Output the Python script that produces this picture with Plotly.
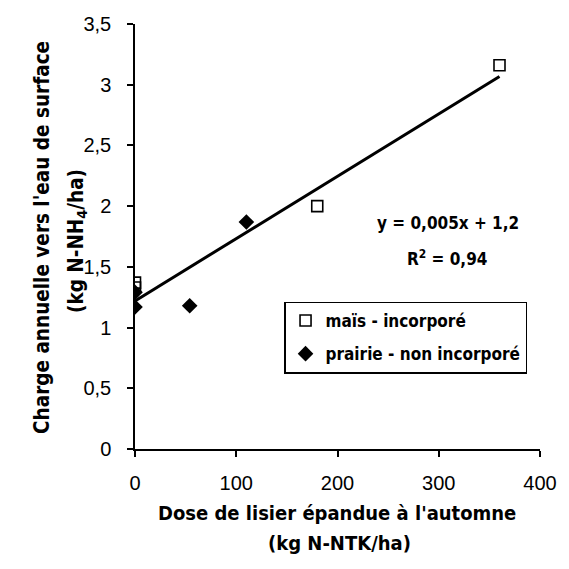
import numpy as np
import plotly.graph_objects as go

# Data
mais_x = [0, 0, 180, 360]
mais_y = [1.37, 1.33, 2.00, 3.16]
prairie_x = [0, 0, 54, 110]
prairie_y = [1.29, 1.17, 1.18, 1.87]

x_ticks = [0, 100, 200, 300, 400]
y_ticks = [0, 0.5, 1, 1.5, 2, 2.5, 3, 3.5]
y_tick_labels = ["0", "0,5", "1", "1,5", "2", "2,5", "3", "3,5"]

eq_text = "y = 0,005x + 1,2"
r2_text = "R<sup>2</sup> = 0,94"

# Linear trend over all points
all_x = np.array(mais_x + prairie_x, dtype=float)
all_y = np.array(mais_y + prairie_y, dtype=float)
slope, intercept = np.polyfit(all_x, all_y, 1)
trend_x = [all_x.min(), all_x.max()]
trend_y = [slope * v + intercept for v in trend_x]

bold_font = "Liberation Sans Narrow, DejaVu Sans Condensed, Arial Narrow, sans-serif"
title_font = "DejaVu Sans Condensed, DejaVu Sans, sans-serif"

fig = go.Figure()
fig.add_trace(go.Scatter(
    x=trend_x, y=trend_y, mode="lines",
    line=dict(color="black", width=3), showlegend=False, hoverinfo="skip"))
fig.add_trace(go.Scatter(
    x=mais_x, y=mais_y, mode="markers", name="maïs - incorporé", legendgroup="a",
    marker=dict(symbol="square-open", size=11, color="black", line=dict(width=1.6, color="black"))))
fig.add_trace(go.Scatter(
    x=prairie_x, y=prairie_y, mode="markers", name="prairie - non incorporé", legendgroup="b",
    marker=dict(symbol="diamond", size=12, color="black")))

fig.update_layout(
    width=569, height=569,
    margin=dict(l=135, r=18, t=24, b=120),
    paper_bgcolor="white", plot_bgcolor="white",
    font=dict(family="Liberation Sans, Arial, sans-serif", size=20, color="black"),
    xaxis=dict(range=[0, 400], tickvals=x_ticks, ticktext=[str(v) for v in x_ticks],
               showgrid=False, zeroline=False, showline=True, linecolor="black", linewidth=1.5,
               ticks="outside", ticklen=6, tickwidth=1.5, tickcolor="black",
               ticklabelstandoff=9, fixedrange=True),
    yaxis=dict(range=[0, 3.5], tickvals=y_ticks, ticktext=y_tick_labels,
               showgrid=False, zeroline=False, showline=True, linecolor="black", linewidth=1.5,
               ticks="outside", ticklen=6, tickwidth=1.5, tickcolor="black",
               ticklabelstandoff=12, fixedrange=True),
    legend=dict(x=0.368, y=0.347, xanchor="left", yanchor="top",
                bordercolor="black", borderwidth=1.5, bgcolor="white",
                font=dict(family=bold_font, size=17, color="black", weight="bold"),
                itemwidth=30, tracegroupgap=8),
    showlegend=True,
)

ann_common = dict(showarrow=False, xref="x", yref="y")
eq_font = dict(family=bold_font, size=17, color="black", weight="bold")
fig.add_annotation(x=(457 - 135) / 1.04, y=(449 - 223) / 121.5, text=eq_text, font=eq_font, **ann_common)
fig.add_annotation(x=(455 - 135) / 1.04, y=(449 - 258) / 121.5, text=r2_text, font=eq_font, **ann_common)

# Axis titles as annotations (pixel-placed in paper coords)
def px_x(p):
    return (p - 135) / 416.0

def px_y(p):
    return (449 - p) / 425.0

xfont = dict(family=title_font, size=20, color="black", weight="bold")
yfont = dict(family=title_font, size=20.5, color="black", weight="bold")
fig.add_annotation(x=px_x(342), y=px_y(527), xref="paper", yref="paper",
                   text="Dose de lisier épandue à l'automne", showarrow=False, font=xfont)
fig.add_annotation(x=px_x(345), y=px_y(557), xref="paper", yref="paper",
                   text="(kg N-NTK/ha)", showarrow=False, font=xfont)
fig.add_annotation(x=px_x(25), y=px_y(237), xref="paper", yref="paper", textangle=-90,
                   text="Charge annuelle vers l'eau de surface", showarrow=False, font=yfont)
fig.add_annotation(x=px_x(60), y=px_y(241), xref="paper", yref="paper", textangle=-90,
                   text="(kg N-NH<sub>4</sub>/ha)", showarrow=False, font=yfont)

fig.write_html("out.html")
